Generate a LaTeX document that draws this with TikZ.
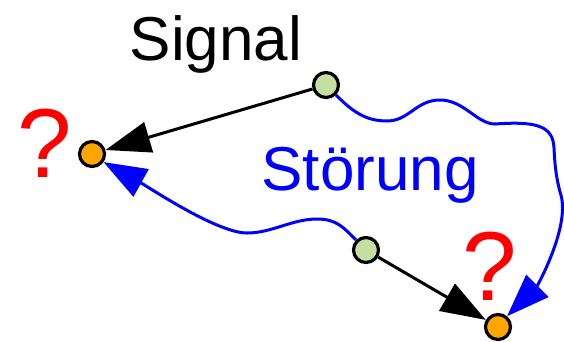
\documentclass[tikz,border=0pt]{standalone}
\usepackage{fontspec}
\setmainfont{Liberation Sans}
\usetikzlibrary{arrows.meta}
\definecolor{dotgreen}{HTML}{C4DFA2}
\definecolor{dotorange}{HTML}{FFA500}
\begin{document}
\begin{tikzpicture}[x=1pt,y=-1pt,
  src/.style={circle,draw=black,line width=3.2pt,fill=dotgreen,minimum size=25pt,inner sep=0pt},
  dst/.style={circle,draw=black,line width=3.2pt,fill=dotorange,minimum size=25pt,inner sep=0pt},
  big/.style={font=\fontsize{62}{64}\selectfont,inner sep=0pt,anchor=base},
  ask/.style={font=\fontsize{98}{100}\selectfont,text=red,inner sep=0pt,anchor=base},
  sig/.style={draw=black,line width=3pt,-{Triangle[length=45pt,width=31pt]}},
  noise/.style={draw=blue,line width=3pt,-{Triangle[length=43pt,width=31pt]}}]
\useasboundingbox (0,0) rectangle (564,341);

% labels
\node[big] (tsig) at (216,60) {Signal};
\node[big,text=blue] (tnoise) at (370,190) {Störung};
\node[ask] (q1) at (45,177) {?};
\node[ask] (q2) at (490,300) {?};

% emitters and receivers
\node[src] (g1) at (326,85) {};
\node[src] (g2) at (366,250) {};
\node[dst] (o1) at (92,154) {};
\node[dst] (o2) at (498,327) {};

% signal paths
\draw[sig] (g1) -- (o1);
\draw[sig] (g2) -- (o2);

% wavy disturbance paths
\draw[noise] (g1.-45) .. controls +(16,16) and +(-22,0) .. (387,121)
  .. controls +(22,0) and +(-24,0) .. (440,100)
  .. controls +(24,0) and +(-18,0) .. (495,124)
  .. controls +(42,-3) and +(-1,-22) .. (554,148)
  .. controls +(1,22) and +(-3,-12) .. (560,192)
  .. controls +(12,32) and +(30,-30) .. (o2.50);
\draw[noise] (g2.135) .. controls +(-12,-12) and +(20,0) .. (317,219)
  .. controls +(-25,0) and +(25,0) .. (247,233)
  .. controls +(-30,0) and +(45,25) .. (o1.-35);
\end{tikzpicture}
\end{document}
